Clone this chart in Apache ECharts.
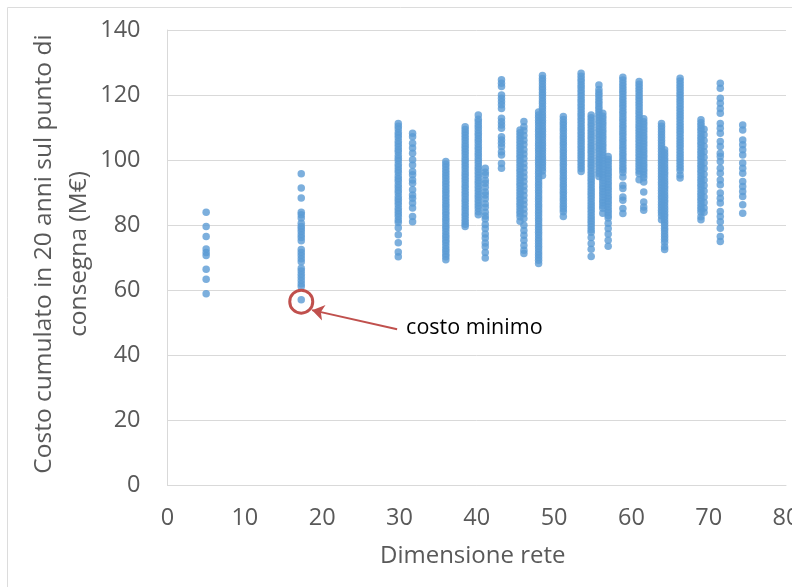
<!DOCTYPE html>
<html><head><meta charset="utf-8">
<script src="https://cdn.jsdelivr.net/npm/echarts@6/dist/echarts.min.js"></script>
<style>html,body{margin:0;padding:0;background:#fff}#c{width:792px;height:587px}</style>
</head><body><div id="c"></div>
<script>
// Network sizes (x), one per column of points
const networkSizes = [5, 17.3, 29.85, 31.7, 36, 38.5, 40.2, 41.1, 43.2, 45.6, 46.1, 48, 48.5, 51.2, 53.5, 54.8, 55.8, 56.3, 57, 58.9, 61, 61.6, 63.9, 64.3, 66.3, 69, 69.4, 71.5, 74.4];
// Cumulated cost (M€) for each column
const costs = [
 [84.0,79.6,76.5,72.7,71.6,70.7,66.5,63.4,58.9],
 [95.8,91.4,88.4,84.0,83.2,82.2,80.6,79.6,78.9,78.1,77.1,76.2,75.2,72.5,71.6,70.7,69.7,68.8,66.8,65.9,64.9,64.0,63.0,62.0,61.2,57.1],
 [111.3,110.4,109.6,108.5,107.7,106.9,105.8,105.0,104.1,103.2,102.5,101.4,100.6,99.8,98.7,97.9,97.0,96.2,95.1,94.3,93.5,92.4,91.6,90.7,89.9,88.8,88.0,87.1,86.3,85.2,84.4,83.5,82.7,81.6,80.8,79.2,77.1,74.6,71.8,70.3],
 [108.3,107.2,105.2,103.7,102.1,100.1,98.5,96.5,95.5,93.9,92.9,90.9,89.3,88.3,86.8,85.3,82.7,81.1],
 [99.6,98.7,97.9,97.0,96.1,95.3,94.4,93.5,92.7,91.8,90.9,90.1,89.2,88.4,87.5,86.6,85.8,84.9,84.0,83.2,82.3,81.5,80.6,79.7,78.9,78.0,77.1,76.3,75.4,74.6,73.7,72.8,72.0,71.1,70.3,69.4],
 [110.3,109.4,108.6,107.7,106.9,106.0,105.1,104.3,103.4,102.6,101.7,100.8,100.0,99.1,98.3,97.4,96.5,95.7,94.8,94.0,93.1,92.2,91.4,90.5,89.7,88.8,87.9,87.1,86.2,85.4,84.5,83.6,82.8,81.9,81.1,80.3,79.6],
 [113.9,112.6,111.8,110.9,110.1,109.2,108.3,107.5,106.6,105.8,104.9,104.0,103.2,102.3,101.5,100.6,99.7,98.9,98.0,97.2,96.3,95.4,94.6,93.7,92.9,92.0,91.1,90.3,89.4,88.6,87.7,86.8,86.0,85.1,84.1,83.2],
 [97.5,96.3,95.4,93.8,92.9,91.7,90.2,89.3,88.1,86.6,85.5,84.0,82.8,81.9,80.2,79.0,77.3,76.1,74.5,73.4,71.6,69.9],
 [124.7,123.6,122.6,120.0,119.0,118.0,117.0,115.9,112.9,111.8,110.8,109.8,107.2,106.2,105.2,104.1,102.6,101.6,99.0,97.5],
 [109.3,108.4,107.6,106.7,105.8,105.0,104.1,103.3,102.4,101.5,100.7,99.8,99.0,98.1,97.2,96.4,95.5,94.7,93.8,92.9,92.1,91.2,90.4,89.5,88.6,87.8,86.9,86.1,85.2,84.3,83.5,82.6,81.2],
 [111.9,110.3,109.0,107.6,106.1,104.8,103.2,101.9,100.5,99.0,97.7,96.2,94.8,93.4,92.0,90.6,89.1,87.7,86.4,84.9,83.5,82.1,80.0,78.4,76.9,75.4,73.8,72.3,71.3],
 [114.8,113.9,113.1,112.2,111.4,110.5,109.6,108.8,107.9,107.1,106.2,105.3,104.5,103.6,102.8,101.9,101.0,100.2,99.3,98.5,97.6,96.7,95.9,95.0,94.2,93.3,92.4,91.6,90.7,89.9,89.0,88.1,87.3,86.4,85.6,84.7,83.8,83.0,82.1,81.3,80.4,79.5,78.7,77.8,77.0,76.1,75.2,74.4,73.5,72.7,71.8,70.9,70.1,69.2,68.2],
 [126.0,125.1,124.3,123.4,122.5,121.7,120.8,120.0,119.1,118.2,117.4,116.5,115.7,114.8,113.9,113.1,112.2,111.4,110.5,109.6,108.8,107.9,107.1,106.2,105.3,104.5,103.6,102.8,101.9,101.0,100.2,99.3,98.5,97.6,96.7,95.3],
 [113.4,112.5,111.6,110.8,109.9,109.1,108.2,107.3,106.5,105.6,104.8,103.9,103.0,102.2,101.3,100.5,99.6,98.7,97.9,97.0,96.2,95.3,94.4,93.6,92.7,91.9,91.0,90.1,89.3,88.4,87.6,86.7,85.8,85.0,84.1,82.7],
 [126.7,125.8,124.9,124.1,123.2,122.4,121.5,120.6,119.8,118.9,118.1,117.2,116.3,115.5,114.6,113.8,112.9,112.0,111.2,110.3,109.5,108.6,107.7,106.9,106.0,105.2,104.3,103.4,102.6,101.7,100.9,100.0,99.1,98.3,97.4,96.5],
 [113.9,113.0,112.2,111.3,110.5,109.6,108.7,107.9,107.0,106.2,105.3,104.4,103.6,102.7,101.9,101.0,100.1,99.3,98.4,97.6,96.7,95.8,95.0,94.1,93.3,92.4,91.5,90.7,89.8,89.0,88.1,87.2,86.4,85.5,84.7,83.8,82.9,82.1,81.2,80.4,79.5,78.6,77.8,76.2,74.4,72.6,70.4],
 [123.1,121.7,120.8,120.0,119.1,118.2,117.4,116.5,115.7,114.8,113.9,113.1,112.2,111.4,110.5,109.6,108.8,107.9,107.1,106.2,105.3,104.5,103.6,102.8,101.9,101.0,100.2,99.3,98.5,97.6,96.7,95.9,95.0],
 [114.4,113.5,112.7,111.8,111.0,110.1,109.2,108.4,107.5,106.7,105.8,104.9,104.1,103.2,102.4,101.5,100.6,99.8,98.9,98.1,97.2,96.3,95.5,94.6,93.8,92.9,92.0,91.2,90.3,89.5,88.6,87.7,86.9,86.0,85.2,83.7],
 [101.1,100.2,99.4,98.5,97.6,96.8,95.9,95.1,94.2,93.3,92.5,91.6,90.8,89.9,89.0,88.2,87.3,86.5,85.6,84.7,83.9,83.0,82.2,80.6,79.0,77.3,75.4,73.5],
 [125.5,124.6,123.7,122.9,122.0,121.2,120.3,119.4,118.6,117.7,116.9,116.0,115.1,114.3,113.4,112.6,111.7,110.8,110.0,109.1,108.3,107.4,106.5,105.7,104.8,104.0,103.1,102.2,101.4,100.5,99.7,98.8,97.9,97.1,96.2,94.8,92.3,91.3,88.7,87.7,85.1,83.6],
 [124.2,123.3,122.5,121.6,120.8,119.9,119.0,118.2,117.3,116.5,115.6,114.7,113.9,113.0,112.2,111.3,110.4,109.6,108.7,107.9,107.0,106.1,105.3,104.4,103.6,102.7,101.8,101.0,100.1,99.3,98.4,97.5,96.7,95.8,94.0],
 [112.7,111.8,111.0,110.1,109.3,108.4,107.5,106.7,105.8,105.0,104.1,103.2,102.4,101.5,100.7,99.8,98.9,98.1,97.2,96.4,95.5,94.6,93.3,90.2,87.1,85.6,84.6],
 [111.3,110.4,109.6,108.7,107.9,107.0,106.1,105.3,104.4,103.6,102.7,101.8,101.0,100.1,99.3,98.4,97.5,96.7,95.8,95.0,94.1,93.2,92.4,91.5,90.7,89.8,88.9,88.1,87.2,86.4,85.5,84.6,83.8,82.9,81.7],
 [103.2,102.3,101.5,100.6,99.8,98.9,98.0,97.2,96.3,95.5,94.6,93.7,92.9,92.0,91.2,90.3,89.4,88.6,87.7,86.9,86.0,85.1,84.3,83.4,82.6,81.7,80.8,80.0,79.1,78.3,77.4,76.5,75.7,74.8,73.4,72.5],
 [125.2,124.3,123.5,122.6,121.8,120.9,120.0,119.2,118.3,117.5,116.6,115.7,114.9,114.0,113.2,112.3,111.4,110.6,109.7,108.9,108.0,107.1,106.3,105.4,104.6,103.7,102.8,102.0,101.1,100.3,99.4,98.5,97.7,96.8,95.4,94.5],
 [112.4,111.5,110.7,109.8,109.0,108.1,107.2,106.4,105.5,104.7,103.8,102.9,102.1,101.2,100.4,99.5,98.6,97.8,96.9,96.1,95.2,94.3,93.5,92.6,91.8,90.9,90.0,89.2,88.3,87.5,86.6,85.7,84.9,84.0,82.6,81.7],
 [109.5,107.8,106.0,104.3,102.6,100.9,99.1,97.4,95.7,93.9,92.2,90.5,88.7,87.0,85.3,84.0],
 [123.6,122.1,119.0,117.5,115.9,114.4,111.3,109.8,108.3,105.7,104.2,102.1,101.1,99.6,97.5,96.0,93.9,92.4,89.9,88.3,86.8,84.2,82.7,81.1,79.1,76.5,75.0],
 [110.8,109.3,106.2,104.7,103.2,101.6,99.1,97.5,96.0,93.4,91.9,90.4,88.8,86.3,83.7]
];
// Annotation (minimum cost) in data units
const minPoint = [17.3, 56.5];
const arrowFrom = [29.7, 48.0];
const arrowTo = [18.7, 53.9];
const noteAt = [30.8, 48.4];
const noteText = 'costo minimo';
const xTitle = 'Dimensione rete';
const yTitle = 'Costo cumulato in 20 anni sul punto di\nconsegna (M€)';

const points = [];
networkSizes.forEach((x, i) => costs[i].forEach(v => points.push([x, v])));

const FONT = 'Open Sans';
const chart = echarts.init(document.getElementById('c'));
chart.setOption({
  animation: false,
  grid: {left: 167.5, right: 6, top: 30, bottom: 101.5, outerBoundsMode: 'none', containLabel: false},
  xAxis: {
    type: 'value', min: 0, max: 80, interval: 10,
    axisLine: {show: true, lineStyle: {color: '#d9d9d9', width: 1}},
    axisTick: {show: false}, splitLine: {show: false},
    axisLabel: {color: '#595959', fontSize: 23.5, fontFamily: FONT, margin: 21},
    name: xTitle, nameLocation: 'middle', nameGap: 59,
    nameTextStyle: {color: '#595959', fontSize: 24, fontFamily: FONT, padding: [0, 8, 0, 0]}
  },
  yAxis: {
    type: 'value', min: 0, max: 140, interval: 20,
    axisLine: {show: true, lineStyle: {color: '#d9d9d9', width: 1}},
    axisTick: {show: false},
    splitLine: {lineStyle: {color: '#d9d9d9', width: 1}},
    axisLabel: {color: '#595959', fontSize: 23.5, fontFamily: FONT, margin: 27}
  },
  graphic: [
    {type: 'rect', shape: {x: 7.5, y: 7.5, width: 820, height: 620}, style: {fill: 'none', stroke: '#dcdcdc', lineWidth: 1}, z: -10, silent: true},
    {type: 'text', x: 62, y: 254, rotation: Math.PI / 2,
     style: {text: yTitle, fill: '#595959', fontSize: 24.5, fontFamily: FONT, align: 'center', verticalAlign: 'middle', lineHeight: 35}}
  ],
  series: [{
    type: 'scatter',
    data: points,
    symbolSize: 7.5,
    itemStyle: {color: '#5b9bd5'},
    markPoint: {
      silent: true,
      data: [
        {coord: minPoint, symbol: 'circle', symbolSize: 23,
         itemStyle: {color: 'rgba(0,0,0,0)', borderColor: '#c0504d', borderWidth: 3},
         label: {show: false}},
        {coord: noteAt, symbol: 'circle', symbolSize: 1,
         itemStyle: {color: 'rgba(0,0,0,0)'},
         label: {show: true, position: 'right', distance: 0, formatter: noteText, color: '#000000', fontSize: 21.5, fontFamily: FONT}}
      ]
    },
    markLine: {
      silent: true,
      symbol: ['none', 'arrow'],
      symbolSize: 12,
      label: {show: false},
      lineStyle: {color: '#c0504d', width: 2, type: 'solid'},
      data: [[{coord: arrowFrom}, {coord: arrowTo}]]
    }
  }]
});
</script>
</body></html>
